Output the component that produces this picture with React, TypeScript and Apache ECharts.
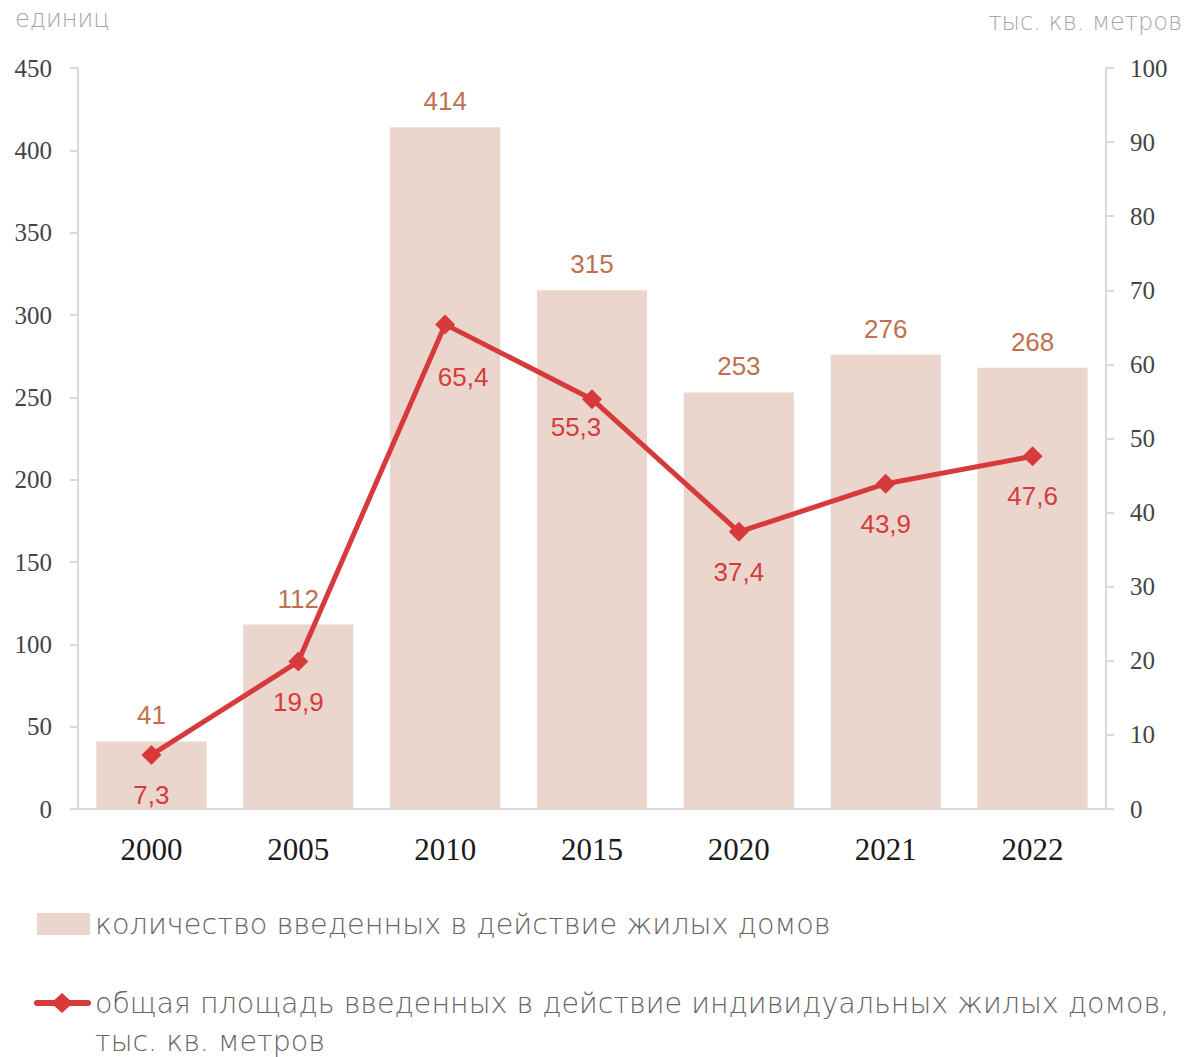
import React, { useEffect, useRef } from "react";
import * as echarts from "echarts";

const categories = ["2000", "2005", "2010", "2015", "2020", "2021", "2022"];
const houses = [41, 112, 414, 315, 253, 276, 268];
const area = [7.3, 19.9, 65.4, 55.3, 37.4, 43.9, 47.6];
const leftTitle = "единиц";
const rightTitle = "тыс. кв. метров";
const legendBar = "количество введенных в действие жилых домов";
const legendLine1 = "общая площадь введенных в действие индивидуальных жилых домов,";
const legendLine2 = "тыс. кв. метров";

const BAR = "#ead6cd";
const RED = "#d63a3a";
const BROWN = "#c0704e";
const SERIF = "'Liberation Serif', 'DejaVu Serif', serif";
const SANS = "'Liberation Sans', Arial, sans-serif";
const THIN = "'DejaVu Sans', 'Noto Sans', sans-serif";

export default function App() {
  const ref = useRef<HTMLDivElement>(null);
  useEffect(() => {
    if (!ref.current) return;
    const chart = echarts.init(ref.current, undefined, { renderer: "svg" });
    const lineLabelOffsets: Record<number, number[]> = { 2: [18, 13], 3: [-16, -12] };
    chart.setOption({
      animation: false,
      grid: { left: 78, right: 78, top: 68, bottom: 248 },
      xAxis: {
        type: "category",
        data: categories,
        axisLine: { lineStyle: { color: "#d9d9d9", width: 2 } },
        axisTick: { show: false },
        axisLabel: { color: "#1a1a1a", fontFamily: SERIF, fontSize: 31, margin: 25 },
      },
      yAxis: [
        {
          type: "value",
          min: 0,
          max: 450,
          interval: 50,
          splitLine: { show: false },
          axisLine: { show: true, lineStyle: { color: "#d9d9d9", width: 2 } },
          axisTick: { show: true, length: 8, lineStyle: { color: "#d9d9d9", width: 2 } },
          axisLabel: { color: "#444", fontFamily: SERIF, fontSize: 25, margin: 26 },
        },
        {
          type: "value",
          min: 0,
          max: 100,
          interval: 10,
          splitLine: { show: false },
          axisLine: { show: true, lineStyle: { color: "#d9d9d9", width: 2 } },
          axisTick: { show: true, length: 8, lineStyle: { color: "#d9d9d9", width: 2 } },
          axisLabel: { color: "#444", fontFamily: SERIF, fontSize: 25, margin: 24 },
        },
      ],
      series: [
        {
          type: "bar",
          data: houses,
          barWidth: "75%",
          itemStyle: { color: BAR },
          label: {
            show: true,
            position: "top",
            distance: 13,
            color: BROWN,
            fontFamily: SANS,
            fontSize: 26,
          },
        },
        {
          type: "line",
          yAxisIndex: 1,
          data: area.map((v, i) => ({
            value: v,
            label: lineLabelOffsets[i] ? { offset: lineLabelOffsets[i] } : undefined,
          })),
          lineStyle: { color: RED, width: 5 },
          itemStyle: { color: RED },
          symbol: "diamond",
          symbolSize: 20,
          label: {
            show: true,
            position: "bottom",
            distance: 17,
            color: RED,
            fontFamily: SANS,
            fontSize: 26,
            formatter: (p: any) => String(p.value).replace(".", ","),
          },
        },
      ],
      graphic: [
        {
          type: "text",
          left: 15,
          top: 7,
          style: { text: leftTitle, fill: "#a6a6a6", font: `200 24px ${THIN}` },
        },
        {
          type: "text",
          right: 2,
          top: 10,
          style: { text: rightTitle, fill: "#a6a6a6", font: `200 24px ${THIN}` },
        },
        { type: "rect", shape: { x: 37, y: 913, width: 53, height: 22 }, style: { fill: BAR } },
        {
          type: "text",
          x: 95,
          y: 924,
          style: { text: legendBar, fill: "#666", font: `200 28.7px ${THIN}`, textVerticalAlign: "middle" },
        },
        {
          type: "line",
          shape: { x1: 37, y1: 1003, x2: 88, y2: 1003 },
          style: { stroke: RED, lineWidth: 6, lineCap: "round" },
        },
        {
          type: "polygon",
          shape: { points: [[62, 993], [73, 1003], [62, 1013], [51, 1003]] },
          style: { fill: RED },
        },
        {
          type: "text",
          x: 95,
          y: 1003,
          style: { text: legendLine1, fill: "#666", font: `200 28.5px ${THIN}`, textVerticalAlign: "middle" },
        },
        {
          type: "text",
          x: 95,
          y: 1041,
          style: { text: legendLine2, fill: "#666", font: `200 28.5px ${THIN}`, textVerticalAlign: "middle" },
        },
      ],
    });
    return () => chart.dispose();
  }, []);
  return (
    <div
      ref={ref}
      style={{ position: "fixed", left: 0, top: 0, width: 1184, height: 1057, background: "#fff" }}
    />
  );
}
